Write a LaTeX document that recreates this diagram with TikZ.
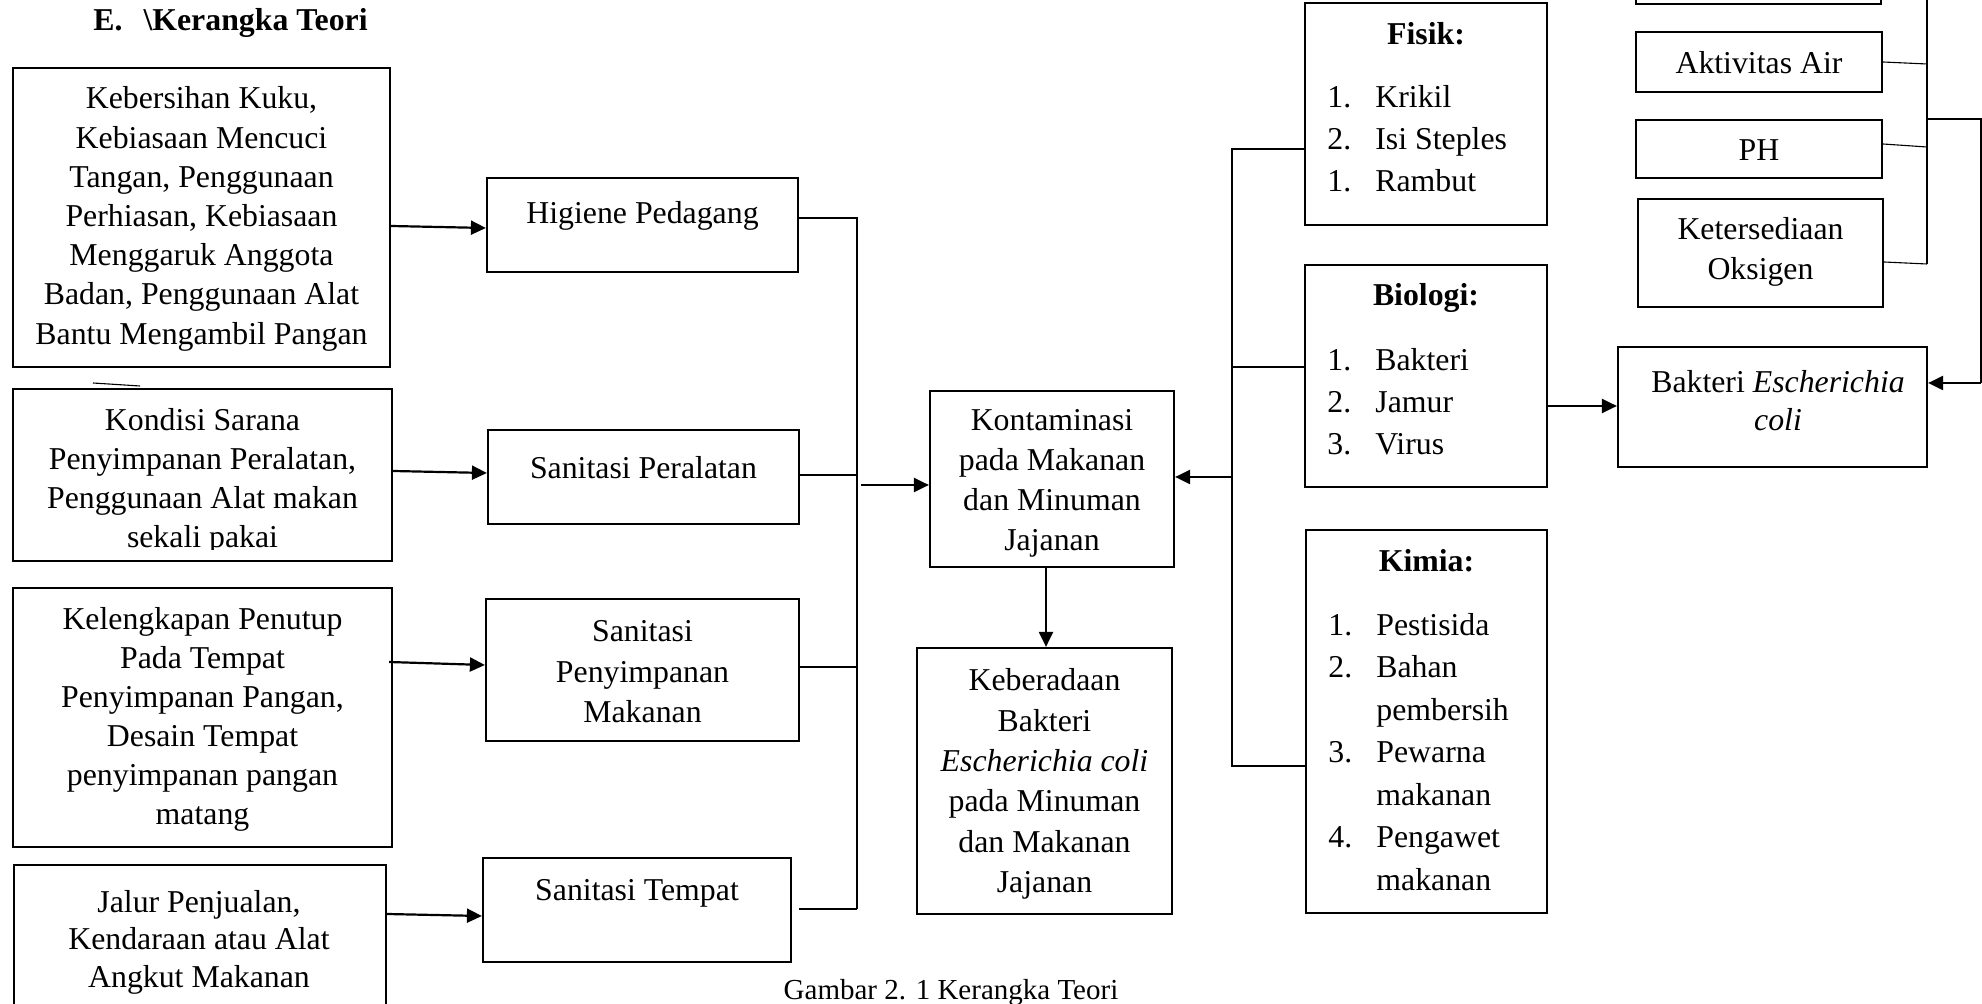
\documentclass[tikz,border=0pt]{standalone}
\usepackage{fontspec}
\setmainfont{Liberation Serif}
\usetikzlibrary{arrows.meta,calc}
\newcommand\myfs[1]{\fontsize{15.9pt}{#1}\selectfont}
\begin{document}
\begin{tikzpicture}[x=0.5pt,y=-0.5pt,
  box/.style={draw,line width=1.1pt,inner sep=0pt,rectangle},
  txt/.style={inner sep=0pt,align=center},
  lst/.style={inner sep=0pt,align=left,anchor=west,font=\myfs{20.9pt}},
  hd/.style={inner sep=0pt,font=\myfs{20pt}\bfseries},
  link/.style={line width=0.55pt},
  arr/.style={line width=1.1pt,-{Triangle[length=7.5pt,width=7pt]}},
]
\useasboundingbox (0,0) rectangle (1982,1004);

% title
\node[inner sep=0pt,anchor=west,font=\myfs{20pt}\bfseries] (title) at (93,23) {E.\hspace{10.5pt}\textbackslash Kerangka Teori};

% left column boxes
\node[box,minimum width=188.5pt,minimum height=149.5pt] (b1) at (201.5,217.5) {};
\node[box,minimum width=189.5pt,minimum height=86pt] (b2) at (202.5,475) {};
\node[box,minimum width=189.5pt,minimum height=129.5pt] (b3) at (202.5,717.5) {};
\node[box,minimum width=186pt,minimum height=90pt] (b4) at (200,955) {};

\node[txt,font=\myfs{19.6pt}] (t1) at (201.5,219) {Kebersihan Kuku,\\Kebiasaan Mencuci\\Tangan, Penggunaan\\Perhiasan, Kebiasaan\\Menggaruk Anggota\\Badan, Penggunaan Alat\\Bantu Mengambil Pangan};
\begin{scope}
\clip (13,389) rectangle (392,550);
\node[txt,font=\myfs{19.5pt}] (t2) at (202.5,481) {Kondisi Sarana\\Penyimpanan Peralatan,\\Penggunaan Alat makan\\sekali pakai};
\end{scope}
\node[txt,font=\myfs{19.5pt}] (t3) at (202.5,719) {Kelengkapan Penutup\\Pada Tempat\\Penyimpanan Pangan,\\Desain Tempat\\penyimpanan pangan\\matang};
\node[txt,font=\myfs{18.7pt}] (t4) at (199,942) {Jalur Penjualan,\\Kendaraan atau Alat\\Angkut Makanan};

% stray short line
\coordinate (s1) at (93,383);
\coordinate (s2) at (140,386);
\draw[link] (s1) -- (s2);

% second column boxes
\node[box,minimum width=155.5pt,minimum height=47pt] (hig) at (642.5,225) {};
\node[box,minimum width=155.5pt,minimum height=47pt] (sper) at (643.5,477) {};
\node[box,minimum width=156.5pt,minimum height=71pt] (spm) at (642.5,670) {};
\node[box,minimum width=154pt,minimum height=52pt] (stem) at (637,910) {};

\node[txt,font=\myfs{20pt}] (thig) at (642.5,216) {Higiene Pedagang};
\node[txt,font=\myfs{20pt}] (tsper) at (643.5,468) {Sanitasi Peralatan};
\node[txt,font=\myfs{20.2pt}] (tspm) at (642.5,672) {Sanitasi\\Penyimpanan\\Makanan};
\node[txt,font=\myfs{20pt}] (tstem) at (637,893) {Sanitasi Tempat};

% centre boxes
\node[box,minimum width=122pt,minimum height=88pt] (kon) at (1052,479) {};
\node[box,minimum width=127.5pt,minimum height=133pt] (keb) at (1044.5,781) {};
\node[txt,font=\myfs{20pt}] (tkon) at (1052,483) {Kontaminasi\\pada Makanan\\dan Minuman\\Jajanan};
\node[txt,font=\myfs{20.2pt}] (tkeb) at (1044.5,784) {Keberadaan\\Bakteri\\\textit{Escherichia coli}\\pada Minuman\\dan Makanan\\Jajanan};

% contaminant boxes
\node[box,minimum width=121pt,minimum height=111pt] (fis) at (1426,114) {};
\node[box,minimum width=121pt,minimum height=111pt] (bio) at (1426,376) {};
\node[box,minimum width=120.5pt,minimum height=191.5pt] (kim) at (1426.5,721.5) {};

\node[hd] (hfis) at (1426,34) {Fisik:};
\node[lst] (lfis) at (1327,139) {\makebox[24pt][l]{1.}Krikil\\\makebox[24pt][l]{2.}Isi Steples\\\makebox[24pt][l]{1.}Rambut};
\node[hd] (hbio) at (1426,298) {Biologi:};
\node[lst] (lbio) at (1327,402) {\makebox[24pt][l]{1.}Bakteri\\\makebox[24pt][l]{2.}Jamur\\\makebox[24pt][l]{3.}Virus};
\node[hd] (hkim) at (1426.5,561) {Kimia:};
\node[lst,font=\myfs{21.25pt}] (lkim) at (1328,752) {\makebox[24pt][l]{1.}Pestisida\\\makebox[24pt][l]{2.}Bahan\\\hspace*{24pt}pembersih\\\makebox[24pt][l]{3.}Pewarna\\\hspace*{24pt}makanan\\\makebox[24pt][l]{4.}Pengawet\\\hspace*{24pt}makanan};

% right column boxes
\node[box,minimum width=122.5pt,minimum height=40pt] (topb) at (1758.5,-36) {};
\node[box,minimum width=123pt,minimum height=30pt] (akt) at (1759,62) {};
\node[box,minimum width=123pt,minimum height=29pt] (ph) at (1759,149) {};
\node[box,minimum width=122.5pt,minimum height=54pt] (oks) at (1760.5,253) {};
\node[box,minimum width=154.5pt,minimum height=60pt] (eco) at (1772.5,407) {};

\node[txt,font=\myfs{20pt}] (takt) at (1759,63) {Aktivitas Air};
\node[txt,font=\myfs{20pt}] (tph) at (1759,150) {PH};
\node[txt,font=\myfs{20pt}] (toks) at (1760.5,252) {Ketersediaan\\Oksigen};
\node[txt,font=\myfs{19pt}] (teco) at (1778,401) {Bakteri \textit{Escherichia}\\\textit{coli}};

% caption
\node[inner sep=0pt,font=\fontsize{14.5pt}{17pt}\selectfont] (cap) at (951,993) {Gambar 2. 1 Kerangka Teori};

% left arrows
\draw[arr] ([yshift=-4.25pt]b1.east) -- ([yshift=-1.5pt]hig.west);
\draw[arr] ([yshift=2pt]b2.east) -- ([yshift=2pt]sper.west);
\draw[arr] ([xshift=-2pt,yshift=27.75pt]b3.east) -- ([yshift=2.5pt]spm.west);
\draw[arr] ([yshift=20.5pt]b4.east) -- ([yshift=-3pt]stem.west);

% left bus
\coordinate (busL1) at (857,218);
\coordinate (busL2) at (857,909);
\coordinate (jP) at (857,475);
\coordinate (jM) at (857,667);
\coordinate (sTe) at ([xshift=3.5pt]stem.east);
\draw[link] (hig.east |- busL1) -- (busL1) -- (busL2);
\draw[link] (sper.east |- jP) -- (jP);
\draw[link] (spm.east |- jM) -- (jM);
\draw[link] (sTe |- busL2) -- (busL2);
\coordinate (aL) at (861,485);
\draw[arr] (aL) -- (kon.west |- aL);

% kon -> keb
\draw[arr] ([xshift=-3pt]kon.south) -- ([xshift=0.75pt]keb.north);

% right bus
\coordinate (busR1) at (1232,149);
\coordinate (busR2) at (1232,766);
\coordinate (jB) at (1232,367);
\coordinate (aR) at (1232,477);
\draw[link] (fis.west |- busR1) -- (busR1) -- (busR2) -- (kim.west |- busR2);
\draw[link] (jB) -- (bio.west |- jB);
\draw[arr] (aR) -- (kon.east |- aR);

% biologi -> e coli
\coordinate (aB) at (1547,406);
\draw[arr] (bio.east |- aB) -- (eco.west |- aB);

% far right bus
\coordinate (busF1) at (1927,-10);
\coordinate (busF2) at (1927,264);
\coordinate (jA) at (1927,64);
\coordinate (jPH) at (1927,147);
\draw[link] (busF1) -- (busF2);
\draw[link] (akt.east) -- (jA);
\draw[link] ([yshift=2.5pt]ph.east) -- (jPH);
\draw[link] ([yshift=-4.5pt]oks.east) -- (busF2);
\coordinate (fR1) at (1927,119);
\coordinate (fR2) at (1981,119);
\coordinate (fR3) at (1981,383);
\draw[link] (fR1) -- (fR2) -- (fR3);
\draw[arr] (fR3) -- (eco.east |- fR3);
\end{tikzpicture}
\end{document}
